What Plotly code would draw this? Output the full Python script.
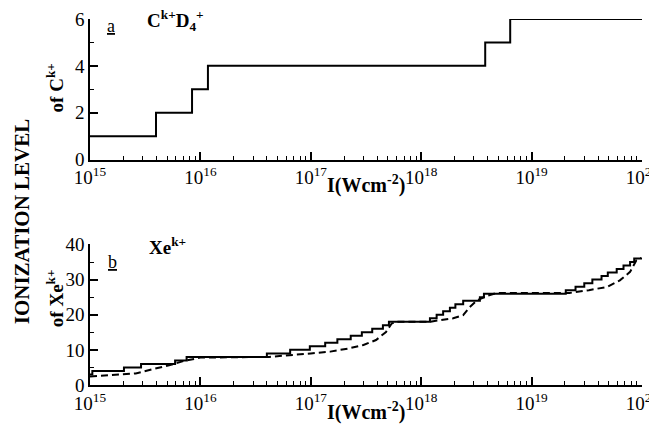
import plotly.graph_objects as go
from plotly.subplots import make_subplots

# ---- data ----
# Panel a: C^k+ in CD4+ (step function)
c_intensity = [1e15, 3.96e15, 8.4e15, 1.17e16, 3.8e18, 6.4e18, 1e20]
c_level = [1, 2, 3, 4, 5, 6, 6]

# Panel b: Xe^k+ solid staircase
xe_intensity = [1.0e15, 1.05e15, 2.03e15, 2.9e15, 5.9e15, 7.5e15, 4.0e16, 6.5e16,
                9.8e16, 1.35e17, 1.74e17, 2.3e17, 2.9e17, 3.6e17, 4.5e17, 5.1e17,
                1.2e18, 1.38e18, 1.58e18, 1.82e18, 2.04e18, 2.4e18, 3.4e18, 3.7e18,
                2.04e19, 2.5e19, 3.0e19, 3.55e19, 4.3e19, 4.9e19, 5.9e19, 6.8e19,
                7.8e19, 8.5e19, 1.0e20]
xe_level = [3, 4, 5, 6, 7, 8, 9, 10,
            11, 12, 13, 14, 15, 16, 17, 18,
            19, 20, 21, 22, 23, 24, 25, 26,
            27, 28, 29, 30, 31, 32, 33, 34,
            35, 36, 36]

# Panel b: Xe^k+ dashed curve
xe2_intensity = [1.0e15, 1.6e15, 2.6e15, 3.7e15, 5.2e15, 7.0e15, 1.0e16, 4.2e16,
                 7.0e16, 1.0e17, 1.5e17, 2.2e17, 3.0e17, 3.9e17, 4.8e17, 5.4e17,
                 6.0e17, 1.2e18, 1.5e18, 1.95e18, 2.4e18, 2.75e18, 3.2e18, 3.9e18,
                 4.8e18, 2.2e19, 3.3e19, 4.8e19, 6.3e19, 7.8e19, 8.9e19, 9.8e19]
xe2_level = [2.4, 2.8, 3.3, 4.5, 5.6, 6.8, 7.8, 8.0,
             8.5, 9.0, 9.5, 10.4, 11.4, 12.8, 15.1, 17.5,
             18.0, 18.0, 18.5, 19.0, 19.9, 22.2, 24.1, 25.3,
             26.2, 26.2, 27.0, 27.9, 29.8, 32.2, 35.5, 36.2]

x_tick_vals = [1e15, 1e16, 1e17, 1e18, 1e19, 1e20]
x_tick_text = ["10<sup>15</sup>", "10<sup>16</sup>", "10<sup>17</sup>",
               "10<sup>18</sup>", "10<sup>19</sup>", "10<sup>20</sup>"]

# ---- layout helpers ----
# The page body adds an 8px offset, so target pixel positions are shifted by it.
OFF = 8
W, H = 657, 434
ML, MR, MT, MB = 90 - OFF, 657 - 642.5 + OFF, 18.5 - OFF, 434 - 385 + OFF
PW, PH = W - ML - MR, H - MT - MB


def px(x):
    return (x - OFF - ML) / PW


def py(y):
    return 1 - (y - OFF - MT) / PH


# top panel: y=0 at 159.3 px; bottom panel: y=40 at 244.3 px
TOP_LOW = py(159.3)
BOT_HIGH = py(244.3)

SERIF = "Liberation Serif, Times New Roman, serif"

fig = make_subplots(rows=2, cols=1)

fig.add_trace(go.Scatter(x=c_intensity, y=c_level, mode="lines", line_shape="hv",
                         line=dict(color="black", width=2), showlegend=False,
                         cliponaxis=False),
              row=1, col=1)
fig.add_trace(go.Scatter(x=xe2_intensity, y=xe2_level, mode="lines",
                         line=dict(color="black", width=2, dash="7px,4px"),
                         showlegend=False),
              row=2, col=1)
fig.add_trace(go.Scatter(x=xe_intensity, y=xe_level, mode="lines", line_shape="hv",
                         line=dict(color="black", width=2), showlegend=False),
              row=2, col=1)

xaxis_common = dict(type="log", range=[15, 20], tickvals=x_tick_vals,
                    ticktext=x_tick_text, automargin=False, ticklabeloverflow="allow",
                    ticks="inside", ticklen=8, tickwidth=1.5, tickcolor="black",
                    showline=True, linecolor="black", linewidth=1.5,
                    showgrid=False, zeroline=False,
                    tickfont=dict(family=SERIF, size=19, color="black"),
                    minor=dict(ticks="inside", ticklen=4, tickwidth=1.2,
                               tickcolor="black", dtick="D1", showgrid=False))
yaxis_common = dict(ticks="inside", ticklen=8, tickwidth=1.5, tickcolor="black",
                    showline=True, linecolor="black", linewidth=1.5,
                    showgrid=False, zeroline=False, automargin=False,
                    ticklabeloverflow="allow",
                    tickfont=dict(family=SERIF, size=19, color="black"))

fig.update_layout(
    width=W, height=H,
    margin=dict(l=ML, r=MR, t=MT, b=MB),
    paper_bgcolor="white", plot_bgcolor="white",
    xaxis=dict(**xaxis_common, domain=[0, 1], anchor="y"),
    yaxis=dict(**yaxis_common, domain=[TOP_LOW, 1.0], range=[0, 6], tickvals=[0, 2, 4, 6],
               minor=dict(ticks="inside", ticklen=4, tickwidth=1.2, tickcolor="black",
                          tickvals=[1, 3, 5])),
    xaxis2=dict(**xaxis_common, domain=[0, 1], anchor="y2"),
    yaxis2=dict(**yaxis_common, domain=[0, BOT_HIGH], range=[0, 40],
                tickvals=[0, 10, 20, 30, 40],
                minor=dict(ticks="inside", ticklen=4, tickwidth=1.2, tickcolor="black",
                           tickvals=[5, 15, 25, 35])),
)

ann = [
    dict(text="<b>IONIZATION LEVEL</b>", x=px(22), y=py(221), textangle=-90, size=21),
    dict(text="<b>of C<sup>k+</sup></b>", x=px(55), y=py(88), textangle=-90, size=19),
    dict(text="<b>of Xe<sup>k+</sup></b>", x=px(55), y=py(298), textangle=-90, size=19),
    dict(text="<b>I(Wcm<sup>-2</sup>)</b>", x=px(366), y=py(184), textangle=0, size=20),
    dict(text="<b>I(Wcm<sup>-2</sup>)</b>", x=px(366), y=py(412), textangle=0, size=20),
    dict(text="<u>a</u>", x=px(111), y=py(26), textangle=0, size=18),
    dict(text="<b>C<sup>k+</sup>D<sub>4</sub><sup>+</sup></b>", x=px(176), y=py(20),
         textangle=0, size=19),
    dict(text="<u>b</u>", x=px(113), y=py(262), textangle=0, size=18),
    dict(text="<b>Xe<sup>k+</sup></b>", x=px(168), y=py(246), textangle=0, size=19),
]
for a in ann:
    fig.add_annotation(text=a["text"], x=a["x"], y=a["y"], xref="paper", yref="paper",
                       xanchor="center", yanchor="middle", showarrow=False,
                       textangle=a["textangle"],
                       font=dict(family=SERIF, size=a["size"], color="black"))

fig.write_html("out.html")
